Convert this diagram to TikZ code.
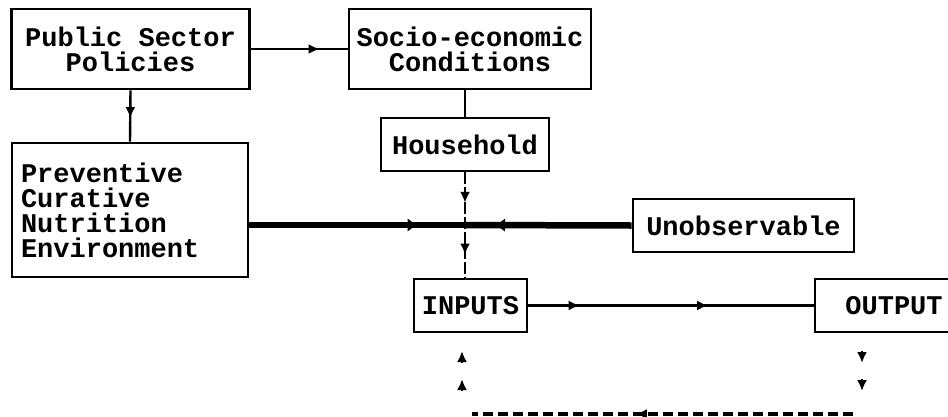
\documentclass[tikz,border=0pt]{standalone}
\usepackage{fontspec}
\setmonofont{Liberation Mono}
\usetikzlibrary{arrows.meta,decorations.markings}
\begin{document}
\begin{tikzpicture}[x=1pt,y=-1pt,
  box/.style={draw,line width=2.6pt,inner sep=0pt,font=\ttfamily\bfseries\fontsize{27}{25}\selectfont,align=center},
  conn/.style={line width=2.4pt},
  thickconn/.style={line width=6.5pt},
  tip/.style={-{Latex[length=11pt,width=10pt]}},
  markone/.style={postaction={decorate},decoration={markings,mark=at position #1 with {\arrow{Latex[length=11pt,width=10pt]}}}},
  marktwo/.style 2 args={postaction={decorate},decoration={markings,mark=at position #1 with {\arrow{Latex[length=11pt,width=10pt]}},mark=at position #2 with {\arrow{Latex[length=11pt,width=10pt]}}}},
  markthick/.style={postaction={decorate},decoration={markings,mark=at position #1 with {\arrow{Latex[length=10pt,width=14pt]}}}},
]
\useasboundingbox (0,0) rectangle (948,416);
\clip (0,0) rectangle (948,416);

% boxes
\node[box,minimum width=238pt,minimum height=80pt] (pub) at (130.5,49) {Public Sector\\Policies};
\node[box,minimum width=242pt,minimum height=80pt] (soc) at (470,49) {Socio-economic\\Conditions};
\node[box,minimum width=168pt,minimum height=53pt] (hh) at (465,144.5) {Household};
\node[box,minimum width=236pt,minimum height=134pt,text width=218pt,align=left] (prev) at (130,210) {Preventive\\Curative\\Nutrition\\Environment};
\node[box,minimum width=221pt,minimum height=53pt] (unobs) at (743.5,225.5) {Unobservable};
\node[box,minimum width=113pt,minimum height=53pt] (inp) at (470.5,305.5) {INPUTS};
\node[box,minimum width=158pt,minimum height=53pt] (out) at (894,305.5) {OUTPUT};

% junction and free coordinates
\coordinate (j) at (465,225);
\coordinate (fbR) at (853,414);
\coordinate (fbL) at (472,414);
\coordinate (u1a) at (462,363); \coordinate (u1b) at (462,351);
\coordinate (u2a) at (462,391); \coordinate (u2b) at (462,379);
\coordinate (d1a) at (862,351); \coordinate (d1b) at (862,363);
\coordinate (d2a) at (862,379); \coordinate (d2b) at (862,391);

% connectors
\draw[conn,markone=0.71] (pub.east) -- (soc.west);
\draw[conn,markone=0.54] (pub.south) -- (prev.north);
\draw[conn] (soc.south -| hh.north) -- (hh.north);
\draw[conn,dash pattern=on 12pt off 3pt,marktwo={0.29}{0.78}] (hh.south) -- (hh.south |- inp.north);
\draw[thickconn,markthick=0.78] (prev.east |- j) -- (j);
\draw[thickconn,markthick=0.82] (unobs.west) -- (j);
\draw[conn,marktwo={0.18}{0.63}] (inp.east) -- (out.west);
\draw[line width=3.2pt,dash pattern=on 10pt off 5pt,markone=0.57] (fbR) -- (fbL);

% free-standing arrows
\draw[conn,tip] (u1a) -- (u1b);
\draw[conn,tip] (u2a) -- (u2b);
\draw[conn,tip] (d1a) -- (d1b);
\draw[conn,tip] (d2a) -- (d2b);
\end{tikzpicture}
\end{document}
